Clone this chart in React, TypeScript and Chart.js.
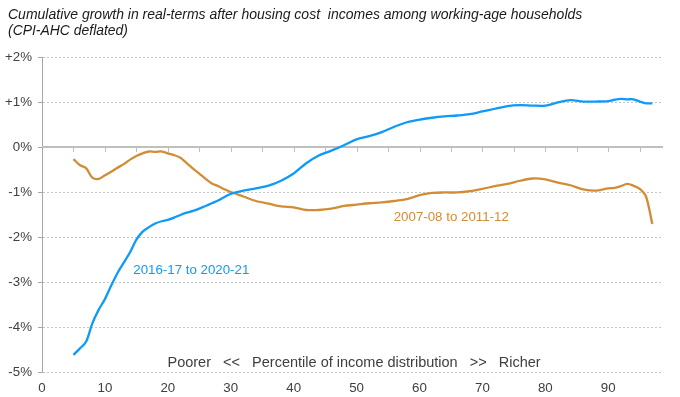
import { useEffect, useRef } from 'react';
import { Chart, registerables } from 'chart.js';

Chart.register(...registerables);

const titleLines = [
  'Cumulative growth in real-terms after housing cost  incomes among working-age households',
  '(CPI-AHC deflated)',
];

const percentiles = [
  5, 6, 7, 8, 9, 10, 11, 12, 13, 14, 15, 16, 17, 18, 19, 20, 21, 22, 23, 24, 25, 26, 27, 28, 29, 30,
  32, 34, 36, 38, 40, 42, 44, 46, 48, 50, 52, 54, 56, 58, 60, 62, 64, 66, 68, 70, 72, 74, 76, 78, 80,
  82, 84, 86, 88, 90, 91, 92, 93, 94, 95, 96, 97,
];

const growth2016to2021 = [
  -4.62, -4.48, -4.33, -3.92, -3.62, -3.38, -3.08, -2.8, -2.57, -2.34, -2.06, -1.88, -1.78, -1.7, -1.65,
  -1.62, -1.57, -1.51, -1.46, -1.42, -1.37, -1.31, -1.25, -1.19, -1.11, -1.04,
  -0.97, -0.92, -0.86, -0.75, -0.59, -0.36, -0.19, -0.08, 0.04, 0.17, 0.24, 0.33, 0.45, 0.55, 0.61,
  0.65, 0.68, 0.7, 0.73, 0.79, 0.85, 0.91, 0.93, 0.92, 0.92,
  0.99, 1.04, 1.01, 1.01, 1.02, 1.05, 1.07, 1.06, 1.06, 1.01, 0.97, 0.97,
];

const growth2007to2012 = [
  -0.27, -0.4, -0.47, -0.68, -0.71, -0.63, -0.55, -0.46, -0.38, -0.28, -0.2, -0.14, -0.1, -0.11, -0.1,
  -0.14, -0.18, -0.24, -0.36, -0.48, -0.59, -0.71, -0.81, -0.87, -0.94, -1.0,
  -1.1, -1.2, -1.26, -1.32, -1.34, -1.4, -1.4, -1.37, -1.31, -1.28, -1.25, -1.23, -1.2, -1.16, -1.07,
  -1.02, -1.01, -1.01, -0.98, -0.93, -0.87, -0.82, -0.75, -0.7, -0.72,
  -0.79, -0.85, -0.94, -0.97, -0.92, -0.91, -0.87, -0.82, -0.86, -0.93, -1.1, -1.71,
];

const seriesLabels = ['2016-17 to 2020-21', '2007-08 to 2011-12'];
const axisCaption = 'Poorer   <<   Percentile of income distribution   >>   Richer';
const zeroLineTicks = [5, 10, 15, 20, 25, 30, 35, 40, 45, 50, 55, 60, 65, 70, 75, 80, 85, 90, 95];

const BLUE = '#0f9af7';
const ORANGE = '#d18d36';
const TEXT = '#404040';
const FONT = '"Liberation Sans", Arial, sans-serif';

export default function App() {
  const ref = useRef<HTMLCanvasElement>(null);

  useEffect(() => {
    if (!ref.current) return;

    const overlay = {
      id: 'overlay',
      beforeDatasetsDraw(chart: any) {
        const { ctx, chartArea, scales } = chart;
        const x = scales.x;
        const y = scales.y;
        const y0 = y.getPixelForValue(0);
        ctx.save();
        ctx.strokeStyle = '#bfbfbf';
        ctx.lineWidth = 2;
        ctx.beginPath();
        ctx.moveTo(chartArea.left, y0);
        ctx.lineTo(chartArea.right, y0);
        ctx.stroke();
        ctx.lineWidth = 1;
        ctx.beginPath();
        for (const t of zeroLineTicks) {
          const px = Math.round(x.getPixelForValue(t)) + 0.5;
          ctx.moveTo(px, y0);
          ctx.lineTo(px, y0 + 5);
        }
        ctx.stroke();
        ctx.restore();
      },
      afterDraw(chart: any) {
        const { ctx, scales } = chart;
        const x = scales.x;
        const y = scales.y;
        ctx.save();
        // title
        ctx.fillStyle = '#1a1a1a';
        ctx.font = `italic 14px ${FONT}`;
        ctx.textAlign = 'left';
        ctx.textBaseline = 'alphabetic';
        ctx.fillText(titleLines[0], 8, 19, 609);
        ctx.fillText(titleLines[1], 8, 34.5, 120);
        // series annotations
        ctx.font = `13.3px ${FONT}`;
        ctx.textBaseline = 'middle';
        ctx.fillStyle = BLUE;
        ctx.fillText(seriesLabels[0], x.getPixelForValue(14.5), y.getPixelForValue(-2.73));
        ctx.fillStyle = ORANGE;
        ctx.fillText(seriesLabels[1], x.getPixelForValue(55.9), y.getPixelForValue(-1.56));
        // axis caption
        ctx.font = `14.5px ${FONT}`;
        ctx.fillStyle = TEXT;
        ctx.textAlign = 'center';
        ctx.fillText(axisCaption, x.getPixelForValue(49.6), y.getPixelForValue(-4.8));
        ctx.restore();
      },
    };

    const chart = new Chart(ref.current, {
      type: 'line',
      data: {
        datasets: [
          {
            label: seriesLabels[0],
            data: percentiles.map((p, i) => ({ x: p, y: growth2016to2021[i] })),
            borderColor: BLUE,
            borderWidth: 2.3,
            pointRadius: 0,
            tension: 0.3,
            fill: false,
          },
          {
            label: seriesLabels[1],
            data: percentiles.map((p, i) => ({ x: p, y: growth2007to2012[i] })),
            borderColor: ORANGE,
            borderWidth: 2.3,
            pointRadius: 0,
            tension: 0.3,
            fill: false,
          },
        ],
      },
      options: {
        animation: false,
        responsive: false,
        devicePixelRatio: 1,
        layout: { padding: { top: 57, right: 17, bottom: 0, left: 0 } },
        plugins: {
          legend: { display: false },
          title: { display: false },
          tooltip: { enabled: false },
        },
        scales: {
          x: {
            type: 'linear',
            min: 0,
            max: 98.7,
            grid: { display: false, drawTicks: false },
            border: { display: false },
            ticks: {
              stepSize: 10,
              includeBounds: false,
              color: TEXT,
              font: { family: FONT, size: 13.3 },
              padding: 8,
              maxRotation: 0,
            },
            afterFit: (s: any) => {
              s.height = 25;
            },
          },
          y: {
            type: 'linear',
            min: -5,
            max: 2,
            grid: {
              color: '#c4c4c4',
              lineWidth: 1,
              drawTicks: true,
              tickLength: 4,
              tickColor: '#a6a6a6',
            },
            border: { display: true, color: '#a6a6a6', width: 1, dash: [2, 2] },
            ticks: {
              stepSize: 1,
              color: TEXT,
              font: { family: FONT, size: 13.3 },
              padding: 6,
              callback: (v: any) => (v > 0 ? `+${v}%` : `${v}%`),
            },
            afterFit: (s: any) => {
              s.width = 42;
            },
          },
        },
      },
      plugins: [overlay],
    } as any);

    return () => chart.destroy();
  }, []);

  return (
    <div style={{ position: 'absolute', left: 0, top: 0, width: 680, height: 397, background: '#fff' }}>
      <canvas ref={ref} width={680} height={397} />
    </div>
  );
}
